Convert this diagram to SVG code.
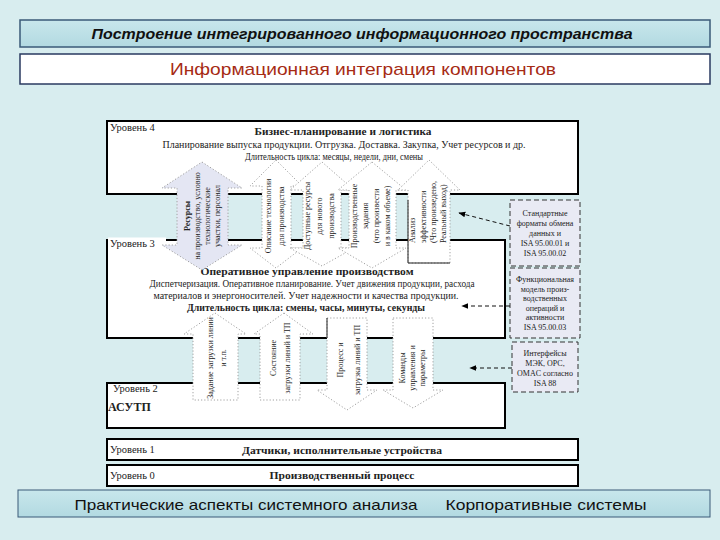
<svg xmlns="http://www.w3.org/2000/svg" width="720" height="540" viewBox="0 0 720 540">
<defs>
<linearGradient id="hdr" x1="0" y1="0" x2="0" y2="1"><stop offset="0" stop-color="#c8e7ec"/><stop offset="1" stop-color="#b2d9e1"/></linearGradient>
<marker id="ah" viewBox="0 0 10 10" refX="9" refY="5" markerWidth="7" markerHeight="7" orient="auto"><path d="M0,1 L10,5 L0,9 z" fill="#000"/></marker>
<style>
.lvl{fill:#fff;stroke:#000;stroke-width:2}
.sf{font-family:"Liberation Serif","Times New Roman",serif;fill:#222}
.lab{font-size:10.5px}
.b{font-weight:bold}
.c{text-anchor:middle}
.arr{fill:#fff;stroke:#a0a0a0;stroke-width:1;stroke-dasharray:1.2 2}
.rt{font-size:8px;text-anchor:middle}
.rs{font-size:8px;text-anchor:start}
.bx{font-size:8px;text-anchor:middle}
.dbox{fill:#e9eaf4;stroke:#333;stroke-width:1;stroke-dasharray:5 3}
.conn{stroke:#111;stroke-width:1;stroke-dasharray:4 3;fill:none}
.hd{font-family:"Liberation Sans",Arial,sans-serif}
</style>
</defs>
<rect x="0" y="0" width="720" height="540" fill="#d8edef"/>

<g id="title">
<rect x="20" y="20" width="690" height="27" fill="url(#hdr)" stroke="#3a5a78" stroke-width="1.5"/>
<text class="hd" x="362" y="39" font-size="14" font-style="italic" font-weight="bold" text-anchor="middle" fill="#111" textLength="541" lengthAdjust="spacingAndGlyphs">Построение интегрированного информационного пространства</text>
</g>
<g id="subtitle">
<rect x="20" y="54" width="690" height="30" fill="#fff" stroke="#2a3a60" stroke-width="1.5"/>
<text class="hd" x="363" y="75" font-size="17" text-anchor="middle" fill="#a62b14" textLength="386" lengthAdjust="spacingAndGlyphs">Информационная интеграция компонентов</text>
</g>

<g id="level4">
<rect class="lvl" x="107" y="121" width="471" height="73"/>
<text class="sf lab" x="110" y="131">Уровень 4</text>
<text class="sf b c" x="343" y="135" font-size="10.5" textLength="177" lengthAdjust="spacingAndGlyphs">Бизнес-планирование и логистика</text>
<text class="sf c" x="344" y="148" font-size="10" textLength="363" lengthAdjust="spacingAndGlyphs">Планирование выпуска продукции. Отгрузка. Доставка. Закупка, Учет ресурсов и др.</text>
<text class="sf c" x="334" y="160" font-size="10" textLength="178" lengthAdjust="spacingAndGlyphs">Длительность цикла: месяцы, недели, дни, смены</text>
</g>

<g id="level3">
<rect class="lvl" x="107" y="240" width="398" height="98"/>
<rect x="108" y="237.5" width="58" height="12" fill="#fff"/>
<text class="sf lab" x="110" y="247">Уровень 3</text>
<text class="sf b c" x="307" y="275" font-size="10.5" textLength="213" lengthAdjust="spacingAndGlyphs">Оперативное управление производством</text>
<text class="sf c" x="312" y="287" font-size="9.5" textLength="325" lengthAdjust="spacingAndGlyphs">Диспетчеризация. Оперативное планирование. Учет движения продукции, расхода</text>
<text class="sf c" x="306" y="299" font-size="9.5" textLength="305" lengthAdjust="spacingAndGlyphs">материалов и энергоносителей. Учет надежности и качества продукции.</text>
<text class="sf b c" x="306" y="311" font-size="9.5" textLength="238" lengthAdjust="spacingAndGlyphs">Длительность цикла: смены, часы, минуты, секунды</text>
</g>

<g id="level2">
<rect class="lvl" x="107" y="383" width="398" height="45"/>
<text class="sf lab" x="113" y="392">Уровень 2</text>
<text class="sf b" x="108" y="411" font-size="12">АСУТП</text>
</g>

<g id="level1">
<rect class="lvl" x="107" y="439" width="471" height="21"/>
<text class="sf lab" x="110" y="453">Уровень 1</text>
<text class="sf b c" x="342" y="454" font-size="11" textLength="200" lengthAdjust="spacingAndGlyphs">Датчики, исполнительные устройства</text>
</g>

<g id="level0">
<rect class="lvl" x="107" y="465" width="471" height="21"/>
<text class="sf lab" x="110" y="479">Уровень 0</text>
<text class="sf b c" x="342" y="479" font-size="11" textLength="145" lengthAdjust="spacingAndGlyphs">Производственный процесс</text>
</g>

<g id="arrow-resources">
<polygon class="arr" points="202,162 242,188 228,188 228,245 242,245 202,270 162,245 177,245 177,188 162,188" style="fill:#e4e6f3"/>
<text class="sf rt b" transform="translate(190,216) rotate(-90)">Ресурсы</text>
<text class="sf rt" transform="translate(200,216) rotate(-90)">на производство, условно</text>
<text class="sf rt" transform="translate(210,216) rotate(-90)">технологические</text>
<text class="sf rt" transform="translate(220,216) rotate(-90)">участки, персонал</text>
</g>
<g id="arrow-technology">
<polygon class="arr" points="276,160 302,186 291,186 291,248 302,248 276,268 250,248 262,248 262,186 250,186"/>
<text class="sf rt" transform="translate(271,216) rotate(-90)">Описание технологии</text>
<text class="sf rt" transform="translate(284,216) rotate(-90)">для производства</text>
</g>
<g id="arrow-available">
<polygon class="arr" points="322,162 354,190 341,190 341,248 354,248 322,266 290,248 303,248 303,190 290,190"/>
<text class="sf rt" transform="translate(310,216) rotate(-90)">Доступные ресурсы</text>
<text class="sf rt" transform="translate(322,216) rotate(-90)">для нового</text>
<text class="sf rt" transform="translate(334,216) rotate(-90)">производства</text>
</g>
<g id="arrow-orders">
<polygon class="arr" points="372,162 406,190 396,190 396,248 406,248 372,268 338,248 349,248 349,190 338,190"/>
<text class="sf rt" transform="translate(357,216) rotate(-90)">Производственные</text>
<text class="sf rt" transform="translate(368,216) rotate(-90)">задания</text>
<text class="sf rt" transform="translate(379,216) rotate(-90)">(что произвести</text>
<text class="sf rt" transform="translate(390,216) rotate(-90)">и в каком объеме)</text>
</g>
<g id="arrow-analysis">
<polygon class="arr" points="429,160 460,190 450,190 450,263 408,263 408,190 398,190"/>
<path d="M408,200 V263 H450" fill="none" stroke="#222" stroke-width="1"/>
<text class="sf rs" transform="translate(415,243) rotate(-90)">Анализ</text>
<text class="sf rs" transform="translate(426,243) rotate(-90)">эффективности</text>
<text class="sf rs" transform="translate(436,243) rotate(-90)">(Что произведено,</text>
<text class="sf rs" transform="translate(446,243) rotate(-90)">Реальный выход)</text>
</g>

<g id="arrow-load">
<polygon class="arr" points="215,313 246,334 238,334 238,400 193,400 193,334 184,334"/>
<text class="sf rt" transform="translate(213,358) rotate(-90)">Задание загрузки линии</text>
<text class="sf rt" transform="translate(226,358) rotate(-90)">и т.п.</text>
</g>
<g id="arrow-state">
<polygon class="arr" points="284,313 313,334 300,334 300,400 260,400 260,334 254,334"/>
<text class="sf rt" transform="translate(276,358) rotate(-90)">Состояние</text>
<text class="sf rt" transform="translate(290,358) rotate(-90)">загрузки линий и ТП</text>
</g>
<g id="arrow-process">
<polygon class="arr" points="327,318 367,318 367,390 377,390 347,410 317,390 327,390"/>
<path d="M327,318 V338" fill="none" stroke="#222" stroke-width="1"/>
<text class="sf rt" transform="translate(343,360) rotate(-90)">Процесс и</text>
<text class="sf rt" transform="translate(360,360) rotate(-90)">загрузка линий и ТП</text>
</g>
<g id="arrow-commands">
<polygon class="arr" points="393,318 433,318 433,390 443,390 413,408 383,390 393,390"/>
<text class="sf rt" transform="translate(405,368) rotate(-90)">Команды</text>
<text class="sf rt" transform="translate(415,368) rotate(-90)">управления и</text>
<text class="sf rt" transform="translate(425,368) rotate(-90)">параметры</text>
</g>

<g id="std-formats">
<rect class="dbox" x="510" y="200" width="70" height="66"/>
<text class="sf bx" x="545" y="216">Стандартные</text>
<text class="sf bx" x="545" y="226">форматы обмена</text>
<text class="sf bx" x="545" y="236">данных и</text>
<text class="sf bx" x="545" y="246">ISA 95.00.01 и</text>
<text class="sf bx" x="545" y="256">ISA 95.00.02</text>
</g>
<g id="func-model">
<rect class="dbox" x="510" y="268" width="70" height="70"/>
<text class="sf bx" x="545" y="282">Функциональная</text>
<text class="sf bx" x="545" y="291.5">модель произ-</text>
<text class="sf bx" x="545" y="301">водственных</text>
<text class="sf bx" x="545" y="310.5">операций и</text>
<text class="sf bx" x="545" y="320">активности</text>
<text class="sf bx" x="545" y="329.5">ISA 95.00.03</text>
</g>
<g id="interfaces">
<rect class="dbox" x="512" y="342" width="66" height="50"/>
<text class="sf bx" x="545" y="356">Интерфейсы</text>
<text class="sf bx" x="545" y="366">МЭК, OPC,</text>
<text class="sf bx" x="545" y="376">OMAC согласно</text>
<text class="sf bx" x="545" y="386">ISA 88</text>
</g>

<g id="connectors">
<line class="conn" x1="510" y1="226" x2="459" y2="213" marker-end="url(#ah)"/>
<line class="conn" x1="510" y1="306" x2="462" y2="306" marker-end="url(#ah)"/>
<line class="conn" x1="512" y1="368" x2="470" y2="368" marker-end="url(#ah)"/>
</g>

<g id="footer">
<rect x="18" y="490" width="692" height="27" fill="url(#hdr)" stroke="#3a5a78" stroke-width="1"/>
<text class="hd" x="246" y="510" font-size="15" text-anchor="middle" fill="#111" textLength="343" lengthAdjust="spacingAndGlyphs">Практические аспекты системного анализа</text>
<text class="hd" x="546" y="510" font-size="15" text-anchor="middle" fill="#111" textLength="201" lengthAdjust="spacingAndGlyphs">Корпоративные системы</text>
</g>
</svg>
